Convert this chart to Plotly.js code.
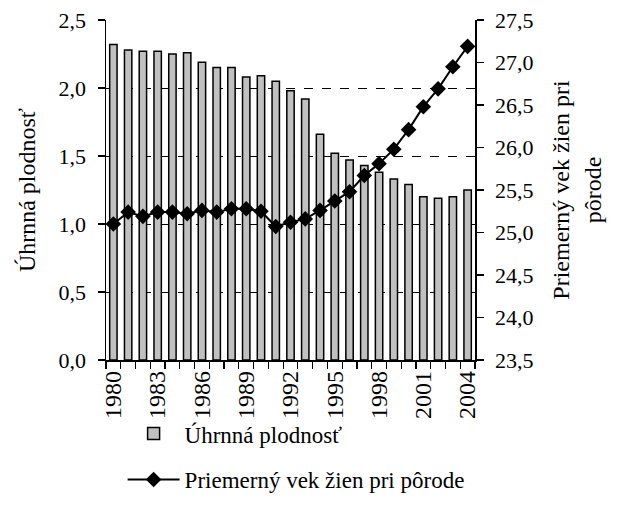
<!DOCTYPE html>
<html><head><meta charset="utf-8">
<script src="https://cdn.plot.ly/plotly-3.0.1.min.js"></script>
<style>body{margin:0;background:#fff}#c{width:617px;height:512px}</style>
</head><body><div id="c"></div>
<script>
var years = [1980,1981,1982,1983,1984,1985,1986,1987,1988,1989,1990,1991,1992,1993,1994,1995,1996,1997,1998,1999,2000,2001,2002,2003,2004];
var tfr = [2.32,2.28,2.27,2.27,2.25,2.26,2.19,2.15,2.15,2.08,2.09,2.05,1.98,1.92,1.66,1.52,1.47,1.43,1.38,1.33,1.29,1.20,1.19,1.20,1.25];
var meanAge = [25.10,25.24,25.19,25.24,25.24,25.22,25.26,25.24,25.28,25.28,25.25,25.07,25.12,25.16,25.26,25.37,25.48,25.67,25.81,25.98,26.21,26.48,26.69,26.95,27.19];
var xTickVals = [1980,1983,1986,1989,1992,1995,1998,2001,2004];
var leftTicks = [0,0.5,1,1.5,2,2.5];
var rightTicks = [23.5,24,24.5,25,25.5,26,26.5,27,27.5];
var fam = 'Liberation Serif, Times New Roman, serif';
var font = {family:fam, size:22, color:'#000'};
var traces = [
 {type:'bar', x:years, y:tfr, name:'Úhrnná plodnosť', legendgroup:'a',
  marker:{color:'#c0c0c0', line:{color:'#000', width:1.5}}},
 {type:'scatter', mode:'lines+markers', x:years, y:meanAge, yaxis:'y2', name:'Priemerný vek žien pri pôrode', legendgroup:'b',
  line:{color:'#000', width:2}, marker:{symbol:'diamond', size:12, color:'#000'}}
];
var layout = {
 width:617, height:512, margin:{l:106, r:142, t:20, b:151},
 paper_bgcolor:'#fff', plot_bgcolor:'#fff', font:font, separators:',.',
 bargap:0.5, showlegend:true,
 legend:{x:0.045, y:-0.15, xanchor:'left', yanchor:'top', orientation:'v', traceorder:'grouped', tracegroupgap:13, itemwidth:52,
  font:{family:fam, size:23, color:'#000'}, bgcolor:'rgba(0,0,0,0)'},
 xaxis:{range:[1979.5,2004.5], tickvals:xTickVals, ticktext:xTickVals.map(String), tickangle:-90, ticks:'', showline:true, linecolor:'#000', linewidth:1.5, showgrid:false, zeroline:false,
  minor:{tick0:1979.5, dtick:1, ticks:'outside', ticklen:7, tickwidth:1.2, tickcolor:'#000', showgrid:false}, tickfont:{family:fam, size:24, color:'#000'}},
 yaxis:{range:[0,2.5], tickvals:leftTicks, tickformat:'.1f', ticks:'outside', ticklen:7, tickwidth:1.2, tickcolor:'#000', showline:true, linecolor:'#000', linewidth:1.5,
  showgrid:true, gridcolor:'#000', gridwidth:1, griddash:'dash', zeroline:false, tickfont:font, ticklabelstandoff:7,
  title:{text:'Úhrnná plodnosť', font:{family:fam, size:24, color:'#000'}, standoff:16}},
 yaxis2:{range:[23.5,27.5], tickvals:rightTicks, tickformat:'.1f', overlaying:'y', side:'right', ticks:'outside', ticklen:7, tickwidth:1.2, tickcolor:'#000', showline:true, linecolor:'#000', linewidth:1.5,
  showgrid:false, zeroline:false, tickfont:font, ticklabelstandoff:7,
  title:{text:'Priemerný vek žien pri<br>pôrode', font:{family:fam, size:24, color:'#000'}, standoff:20}}
};
Plotly.newPlot('c', traces, layout, {staticPlot:true});
</script></body></html>
